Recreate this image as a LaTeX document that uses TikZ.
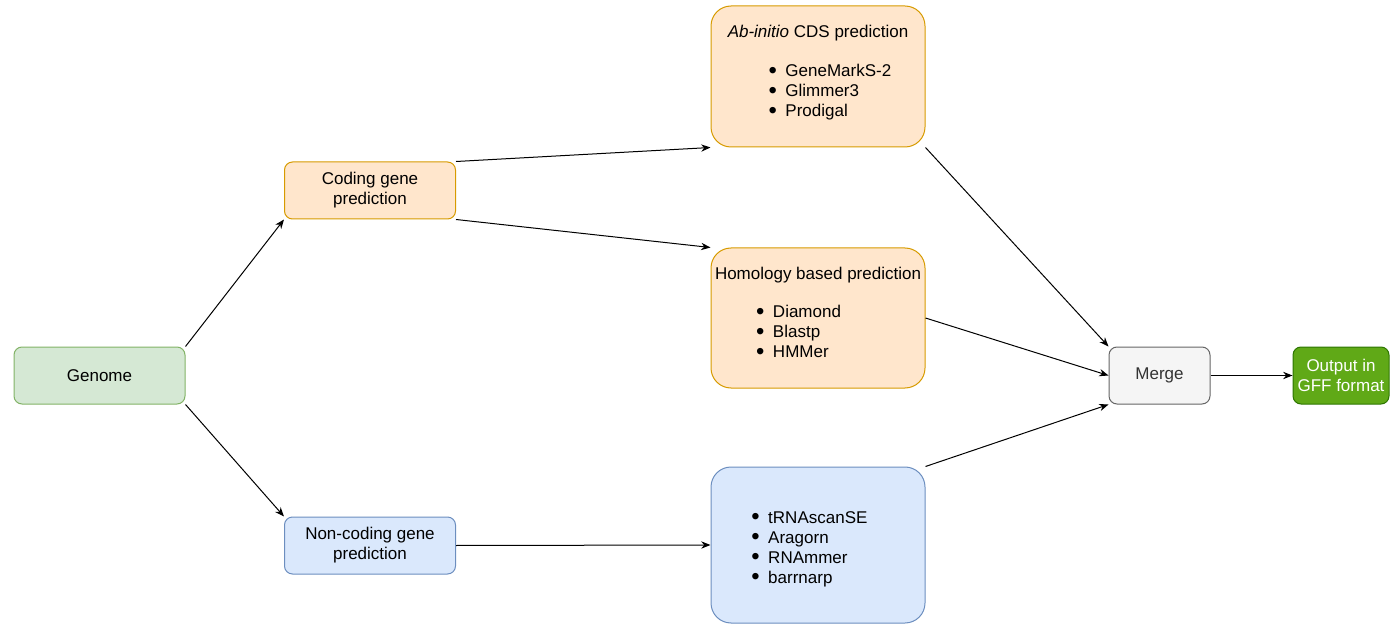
\documentclass[tikz,border=0pt]{standalone}
\usepackage{fontspec}
\setmainfont{Liberation Sans}
\usetikzlibrary{arrows.meta}
\definecolor{genomefill}{HTML}{D5E8D4}
\definecolor{genomedraw}{HTML}{82B366}
\definecolor{codingfill}{HTML}{FFE6CC}
\definecolor{codingdraw}{HTML}{D79B00}
\definecolor{noncodingfill}{HTML}{DAE8FC}
\definecolor{noncodingdraw}{HTML}{6C8EBF}
\definecolor{mergefill}{HTML}{F5F5F5}
\definecolor{mergedraw}{HTML}{666666}
\definecolor{mergetext}{HTML}{333333}
\definecolor{outputfill}{HTML}{60A917}
\definecolor{outputdraw}{HTML}{2D7600}

\newcommand{\toollist}[1]{\begin{tabular}{@{}l@{}}#1\end{tabular}}
\newcommand{\tool}[1]{\makebox[6pt]{\raisebox{-1.4pt}[0pt][0pt]{\scalebox{1.4}{\textbullet}}}\hspace{6.5pt}#1}

\tikzset{
  box/.style={draw, rounded corners=6pt, line width=0.75pt, inner sep=2pt,
    minimum width=128.25pt, minimum height=42.75pt, align=center,
    font=\fontsize{12.75}{15}\selectfont},
  bigbox/.style={box, rounded corners=15pt, minimum width=160.5pt},
  flow/.style={-{Stealth[length=7pt,width=5.5pt]}, line width=0.75pt},
}

\begin{document}
\begin{tikzpicture}[x=0.75pt,y=-0.75pt]

\useasboundingbox (0,0) rectangle (1390,624);

% left column
\node[box, fill=genomefill, draw=genomedraw] (genome) at (99.5,375.5) {Genome};

\node[box, fill=codingfill, draw=codingdraw] (coding) at (370,190.5) {Coding gene\\prediction};
\node[box, fill=noncodingfill, draw=noncodingdraw] (noncoding) at (370,545.5) {Non-coding gene\\prediction};

% tool boxes
\node[bigbox, fill=codingfill, draw=codingdraw, minimum height=105.75pt] (abinitio) at (818,76.5)
  {\begin{tabular}{@{}c@{}}\textit{Ab-initio} CDS prediction\\[14.5pt]
   \hspace*{18pt}\toollist{\tool{GeneMarkS-2}\\ \tool{Glimmer3}\\ \tool{Prodigal}}\\[20.5pt]\end{tabular}};

\node[bigbox, fill=codingfill, draw=codingdraw, minimum height=105pt] (homology) at (818,318)
  {\begin{tabular}{@{}c@{}}Homology based prediction\\[13.5pt]
   \toollist{\tool{Diamond}\\ \tool{Blastp}\\ \tool{HMMer}}\hspace*{29pt}\\[20.5pt]\end{tabular}};

\node[bigbox, fill=noncodingfill, draw=noncodingdraw, minimum height=117pt] (rnatools) at (818,545)
  {\raisebox{-3pt}[\height][\depth]{\toollist{\tool{tRNAscanSE}\\ \tool{Aragorn}\\ \tool{RNAmmer}\\ \tool{barrnarp}}}\hspace*{12.75pt}};

% right side
\node[box, fill=mergefill, draw=mergedraw, text=mergetext, minimum width=75.75pt] (merge) at (1159.5,375.5) {Merge};
\node[box, fill=outputfill, draw=outputdraw, text=white, minimum width=72pt, inner sep=0pt] (output) at (1341,375.5) {Output in\\GFF format};

% connectors
\draw[flow] (genome.north east) -- (coding.south west);
\draw[flow] (genome.south east) -- (noncoding.north west);

\draw[flow] (coding.north east) -- (abinitio.south west);
\draw[flow] (coding.south east) -- (homology.north west);
\draw[flow] (noncoding.east) -- (rnatools.west);

\draw[flow] (abinitio.south east) -- (merge.north west);
\draw[flow] (homology.east) -- (merge.west);
\draw[flow] (rnatools.north east) -- (merge.south west);

\draw[flow] (merge.east) -- (output.west);

\end{tikzpicture}
\end{document}
